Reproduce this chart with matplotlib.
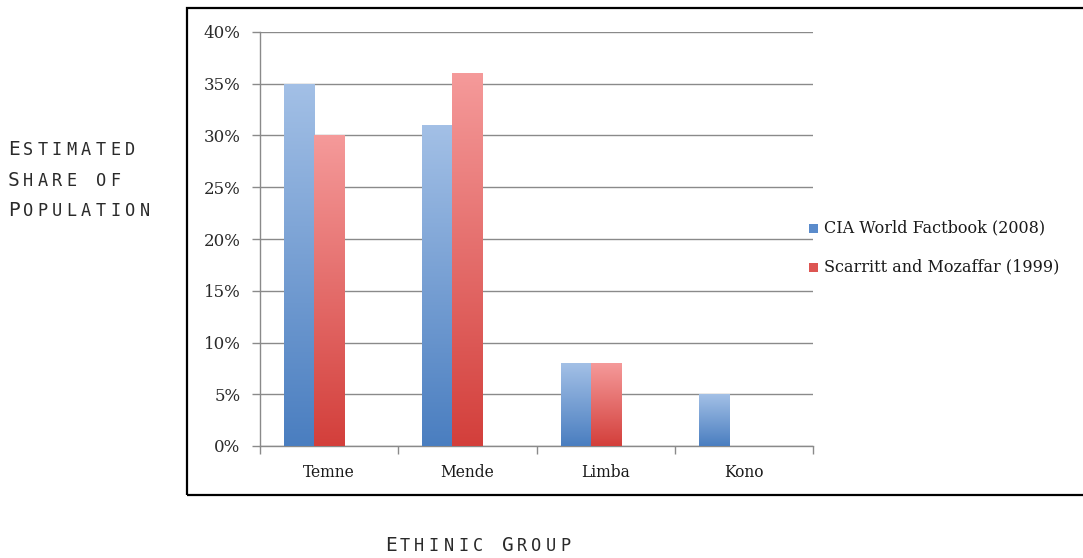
import numpy as np
import matplotlib
matplotlib.use("Agg")
import matplotlib.pyplot as plt
from matplotlib.colors import LinearSegmentedColormap
from matplotlib.patches import Rectangle

# Estimated share of population by ethnic group
groups = ["Temne", "Mende", "Limba", "Kono"]
cia_2008 = [35, 31, 8, 5]
scarritt_1999 = [30, 36, 8, None]
series_names = ["CIA World Factbook (2008)", "Scarritt and Mozaffar (1999)"]
y_ticks = [0, 5, 10, 15, 20, 25, 30, 35, 40]

W, H = 1083, 558
DPI = 100
fig = plt.figure(figsize=(W / DPI, H / DPI), dpi=DPI)
fig.patch.set_facecolor("white")


def fx(px):
    return px / W


def fy(py):
    return 1 - py / H


ax = fig.add_axes([fx(260), fy(446), fx(813) - fx(260), fy(32) - fy(446)])

blue_cmap = LinearSegmentedColormap.from_list("blue", ["#a3c0e6", "#4a7ec0"])
red_cmap = LinearSegmentedColormap.from_list("red", ["#f59a9a", "#d33f3b"])
grad = np.linspace(0, 1, 256).reshape(-1, 1)

x = np.arange(len(groups))
width = 0.217


def gradient_bars(xpos, values, cmap):
    vals = [v if v is not None else 0 for v in values]
    bars = ax.bar(xpos, vals, width, facecolor="none", edgecolor="none", zorder=3)
    for bar, v in zip(bars, values):
        if v is None:
            continue
        x0, y0 = bar.get_x(), bar.get_y()
        w, h = bar.get_width(), bar.get_height()
        im = ax.imshow(grad, cmap=cmap, aspect="auto", extent=[x0, x0 + w, y0, y0 + h],
                       origin="upper", zorder=3, interpolation="bilinear")
        im.set_clip_path(bar)
    return bars


gradient_bars(x - width, cia_2008, blue_cmap)
gradient_bars(x, scarritt_1999, red_cmap)

ax.set_xlim(-0.5, len(groups) - 0.5)
ax.set_ylim(0, 40)
ax.set_yticks(y_ticks)
ax.set_yticklabels([f"{t}%" for t in y_ticks])
ax.yaxis.grid(True, color="#8a8a8a", linewidth=1.0, zorder=0)
ax.set_axisbelow(True)

# category labels centred, tick marks on category boundaries
ax.set_xticks(x)
ax.set_xticklabels(groups)
ax.set_xticks(np.arange(-0.5, len(groups), 1.0), minor=True)
ax.tick_params(axis="x", which="major", length=0, pad=13)
ax.tick_params(axis="x", which="minor", length=6, color="#8a8a8a", width=1.0)
ax.tick_params(axis="y", length=6, color="#8a8a8a", width=1.0, pad=8)

for lab in ax.get_yticklabels():
    lab.set_fontfamily("DejaVu Serif")
    lab.set_fontsize(12)
    lab.set_color("#2a2a2a")
for lab in ax.get_xticklabels():
    lab.set_fontfamily("DejaVu Serif")
    lab.set_fontsize(11.2)
    lab.set_color("#1a1a1a")

for side in ("top", "right"):
    ax.spines[side].set_visible(False)
for side in ("left", "bottom"):
    ax.spines[side].set_color("#8a8a8a")
    ax.spines[side].set_linewidth(1.0)

# chart frame
fig.patches.append(Rectangle((fx(187), fy(495)), fx(1095) - fx(187), fy(8) - fy(495),
                             transform=fig.transFigure, fill=False,
                             edgecolor="black", linewidth=1.6))

# legend
legend_colors = ["#5a8bcb", "#dd5552"]
for i, (name, col) in enumerate(zip(series_names, legend_colors)):
    cy = 228 + i * 39
    fig.patches.append(Rectangle((fx(809), fy(cy + 4.5)), fx(9), 9 / H,
                                 transform=fig.transFigure, facecolor=col,
                                 edgecolor="none"))
    fig.text(fx(824), fy(cy), name, family="DejaVu Serif", fontsize=11.5,
             color="#1a1a1a", va="center", ha="left")


def small_caps(text, x0, baseline, pitch=14.6, big=14.0, small=12.2,
               color="#2a2a2a"):
    """Draw spaced-out small caps, one monospaced glyph at a time."""
    for i, ch in enumerate(text):
        if ch == " ":
            continue
        size = big if ch.isupper() else small
        fig.text(fx(x0 + i * pitch), fy(baseline), ch.upper(),
                 family="DejaVu Sans Mono", fontsize=size, color=color,
                 ha="left", va="baseline")


small_caps("Estimated", 8, 155)
small_caps("Share of", 8, 186)
small_caps("Population", 8, 216)
small_caps("Ethinic Group", 385, 551)

fig.savefig("out.png", dpi=DPI, facecolor="white")
